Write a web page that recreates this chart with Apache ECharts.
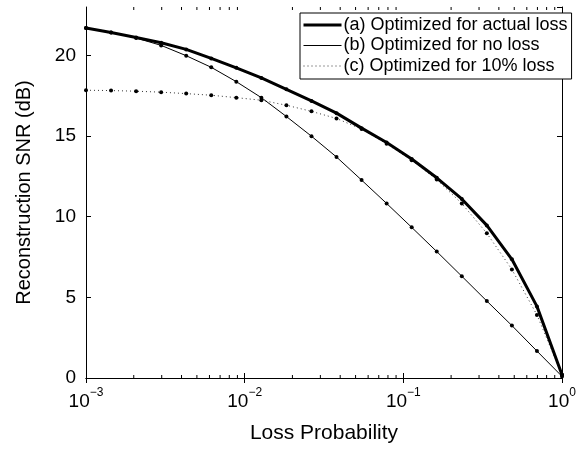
<!DOCTYPE html>
<html><head><meta charset="utf-8">
<script src="https://cdn.jsdelivr.net/npm/echarts@6/dist/echarts.min.js"></script>
<style>html,body{margin:0;padding:0;background:#fff}#c{width:586px;height:449px}</style>
</head><body><div id="c"></div>
<script>
// Loss probabilities (x)
const lossProb = [0.001, 0.0014384, 0.002069, 0.002976, 0.004281, 0.006158, 0.008859, 0.012743, 0.01833, 0.026367,
  0.037927, 0.054556, 0.078476, 0.11288, 0.16237, 0.23357, 0.33598, 0.48329, 0.69519, 1.0];
// Reconstruction SNR (dB)
const snrActual = [21.7, 21.42, 21.11, 20.78, 20.37, 19.81, 19.23, 18.6, 17.9, 17.18, 16.42, 15.49, 14.6, 13.58, 12.41, 11.1, 9.46, 7.36, 4.44, 0.2];
const snrNoLoss = [21.7, 21.42, 21.08, 20.62, 19.98, 19.26, 18.37, 17.38, 16.21, 14.99, 13.7, 12.27, 10.82, 9.34, 7.84, 6.31, 4.77, 3.25, 1.67, 0.1];
const snrTenPct = [17.84, 17.82, 17.78, 17.72, 17.63, 17.53, 17.38, 17.22, 16.91, 16.53, 16.09, 15.43, 14.52, 13.5, 12.3, 10.82, 8.97, 6.73, 3.91, 0.2];
const seriesNames = ['(a) Optimized for actual loss', '(b) Optimized for no loss', '(c) Optimized for 10% loss'];
const xMajor = [0.001, 0.01, 0.1, 1];
const yTicks = [0, 5, 10, 15, 20];

const FONT = '"Liberation Sans", Arial, Helvetica, sans-serif';
const chart = echarts.init(document.getElementById('c'), null, {renderer: 'canvas'});

function pairs(ys) { return lossProb.map((x, i) => [x, ys[i]]); }

const supLabel = v => {
  const e = Math.round(Math.log10(v));
  return '{b|10}{s|' + (e < 0 ? '\u2212' + (-e) : e) + '}';
};

const option = {
  animation: false,
  backgroundColor: '#fff',
  grid: {left: 86, right: 24, top: 7, bottom: 70},
  xAxis: [{
    type: 'log', logBase: 10, min: 0.001, max: 1,
    position: 'bottom',
    name: 'Loss Probability', nameLocation: 'middle', nameGap: 45,
    nameTextStyle: {fontFamily: FONT, fontSize: 21, color: '#000'},
    axisLine: {show: true, lineStyle: {color: '#000', width: 1}},
    axisTick: {show: true, inside: true, length: 5, lineStyle: {color: '#000'}},
    splitLine: {show: false},
    axisLabel: {
      margin: 9, formatter: supLabel,
      rich: {
        b: {fontFamily: FONT, fontSize: 19, color: '#000', padding: [5, 0, 0, 0]},
        s: {fontFamily: FONT, fontSize: 12, color: '#000', verticalAlign: 'top'}
      }
    }
  }, {
    type: 'log', logBase: 10, min: 0.001, max: 1, position: 'top',
    axisLine: {show: true, lineStyle: {color: '#000', width: 1}},
    axisTick: {show: true, inside: true, length: 5, lineStyle: {color: '#000'}},
    axisLabel: {show: false}, splitLine: {show: false}
  }],
  yAxis: [{
    type: 'value', min: 0, max: 23, interval: 5,
    name: 'Reconstruction SNR (dB)', nameLocation: 'middle', nameGap: 52,
    nameTextStyle: {fontFamily: FONT, fontSize: 20, color: '#000'},
    axisLine: {show: true, lineStyle: {color: '#000', width: 1}},
    axisTick: {show: true, inside: true, length: 5, lineStyle: {color: '#000'}},
    splitLine: {show: false},
    axisLabel: {fontFamily: FONT, fontSize: 19, color: '#000', margin: 10, showMaxLabel: false,
      formatter: v => (yTicks.indexOf(v) >= 0 ? String(v) : '')}
  }, {
    type: 'value', min: 0, max: 23, interval: 5, position: 'right',
    axisLine: {show: true, lineStyle: {color: '#000', width: 1}},
    axisTick: {show: true, inside: true, length: 5, lineStyle: {color: '#000'}},
    axisLabel: {show: false}, splitLine: {show: false}
  }],
  legend: {
    left: 300, top: 13, orient: 'vertical',
    itemWidth: 38, itemHeight: 12, itemGap: 2.5,
    padding: [3, 4, 4, 2],
    borderColor: '#000', borderWidth: 1, backgroundColor: '#fff',
    textStyle: {fontFamily: FONT, fontSize: 18, color: '#000', padding: [0, 0, 0, -3]},
    itemStyle: {opacity: 0},
    lineStyle: {width: 'inherit'},
    data: seriesNames
  },
  series: [{
    name: seriesNames[0], type: 'line', data: pairs(snrActual),
    symbol: 'circle', symbolSize: 4, showSymbol: true,
    lineStyle: {color: '#000', width: 3}, itemStyle: {color: '#000'}, z: 5
  }, {
    name: seriesNames[1], type: 'line', data: pairs(snrNoLoss),
    symbol: 'circle', symbolSize: 4,
    lineStyle: {color: '#000', width: 1}, itemStyle: {color: '#000'}, z: 4
  }, {
    name: seriesNames[2], type: 'line', data: pairs(snrTenPct),
    symbol: 'circle', symbolSize: 4,
    lineStyle: {color: '#333', width: 1, type: [1, 3]}, itemStyle: {color: '#000'}, z: 3
  }]
};
chart.setOption(option);

// Minor log ticks (2..9 per decade) on top and bottom axes
const yBot = chart.convertToPixel({yAxisIndex: 0}, 0);
const yTop = chart.convertToPixel({yAxisIndex: 0}, 23);
const minor = [];
for (let d = 0; d < xMajor.length - 1; d++) {
  for (let k = 2; k <= 9; k++) {
    const x = chart.convertToPixel({xAxisIndex: 0}, xMajor[d] * k);
    minor.push({type: 'line', silent: true, shape: {x1: x, y1: yBot, x2: x, y2: yBot - 3}, style: {stroke: '#000', lineWidth: 1}});
    minor.push({type: 'line', silent: true, shape: {x1: x, y1: yTop, x2: x, y2: yTop + 3}, style: {stroke: '#000', lineWidth: 1}});
  }
}
chart.setOption({graphic: minor});
</script>
</body></html>
